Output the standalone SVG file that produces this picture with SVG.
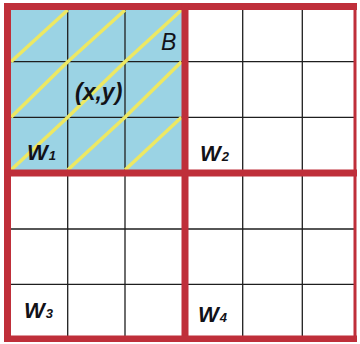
<svg xmlns="http://www.w3.org/2000/svg" width="360" height="344" viewBox="0 0 360 344">
  <style>
    .grid { stroke: #1e1e1e; stroke-width: 1.3; fill: none; }
    .diag { stroke: #EDE863; stroke-width: 3.5; fill: none; stroke-linejoin: round; }
    .red { fill: #BF2F3A; }
    .lbl { font-family: "Liberation Sans", Arial, sans-serif; font-style: italic; fill: #121218; }
    .w { font-weight: bold; font-size: 22px; }
    .sub { font-size: 13px; }
  </style>
  <rect x="0" y="0" width="360" height="344" fill="#ffffff"/>
  <g id="block-B">
    <rect x="11" y="10" width="171" height="160" fill="#9BD3E4"/>
  </g>
  <g id="grid">
    <line class="grid" x1="67.7" y1="10" x2="67.7" y2="336"/>
    <line class="grid" x1="125" y1="10" x2="125" y2="336"/>
    <line class="grid" x1="242.7" y1="10" x2="242.7" y2="336"/>
    <line class="grid" x1="302.3" y1="10" x2="302.3" y2="336"/>
    <line class="grid" x1="11" y1="61.7" x2="354" y2="61.7"/>
    <line class="grid" x1="11" y1="117.3" x2="354" y2="117.3"/>
    <line class="grid" x1="11" y1="229" x2="354" y2="229"/>
    <line class="grid" x1="11" y1="284.3" x2="354" y2="284.3"/>
  </g>
  <g id="diagonals">
    <polyline class="diag" points="11,61.7 67.7,10"/>
    <polyline class="diag" points="11,117.3 67.7,61.7 125,10"/>
    <polyline class="diag" points="11,170 67.7,117.3 125,61.7 181.5,10"/>
    <polyline class="diag" points="67.7,170 125,117.3 181.5,61.7"/>
    <polyline class="diag" points="125,170 181.5,117.3"/>
  </g>
  <g id="borders">
    <rect class="red" x="4" y="3" width="7" height="339"/>
    <rect class="red" x="4" y="3" width="353" height="7"/>
    <rect class="red" x="181.5" y="3" width="7" height="339"/>
    <rect class="red" x="4" y="169.5" width="353" height="7"/>
    <rect class="red" x="4" y="335.5" width="353" height="6.5"/>
    <rect class="red" x="353.5" y="3" width="3" height="339"/>
  </g>
  <g id="label-B"><text class="lbl" x="161" y="49.5" font-size="23">B</text></g>
  <g id="label-xy"><text class="lbl" x="75" y="100" font-size="23" font-weight="bold">(x,y)</text></g>
  <g id="W1"><text class="lbl w" x="27" y="160">W<tspan class="sub" dx="1">1</tspan></text></g>
  <g id="W2"><text class="lbl w" x="200" y="161">W<tspan class="sub" dx="1">2</tspan></text></g>
  <g id="W3"><text class="lbl w" x="24" y="318">W<tspan class="sub" dx="1">3</tspan></text></g>
  <g id="W4"><text class="lbl w" x="198" y="321.5">W<tspan class="sub" dx="1">4</tspan></text></g>
</svg>
